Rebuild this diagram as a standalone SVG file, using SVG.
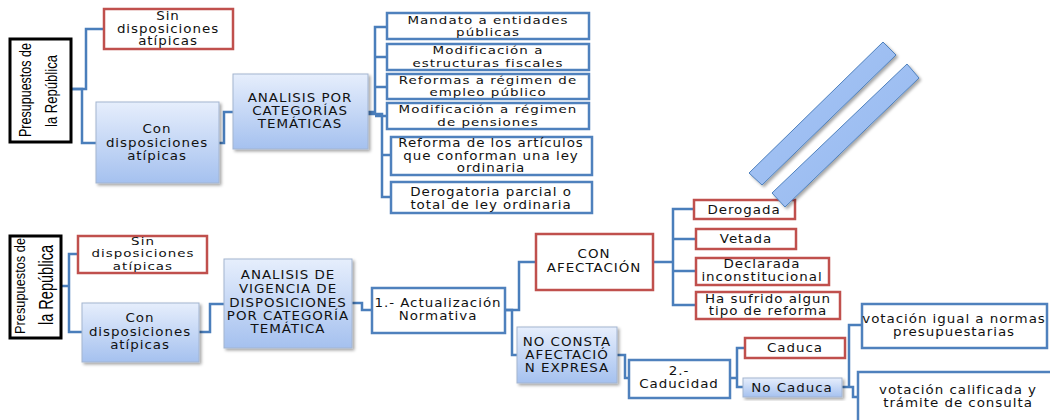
<svg xmlns="http://www.w3.org/2000/svg" width="1050" height="420" viewBox="0 0 1050 420">
<defs>
<linearGradient id="gb" x1="0" y1="0" x2="0" y2="1">
<stop offset="0" stop-color="#e6eefc"/>
<stop offset="1" stop-color="#a5c1ef"/>
</linearGradient>
<linearGradient id="gbar" x1="0" y1="0" x2="1" y2="1">
<stop offset="0" stop-color="#a9c7f6"/>
<stop offset="1" stop-color="#94b7ee"/>
</linearGradient>
<filter id="sh" x="-20%" y="-20%" width="140%" height="140%">
<feDropShadow dx="2" dy="2" stdDeviation="1.5" flood-color="#000" flood-opacity="0.35"/>
</filter>
<style>
.t{font-family:"DejaVu Sans",Verdana,sans-serif;font-size:12px;letter-spacing:0.85px;fill:#111;text-anchor:middle}
.s{font-size:11px}
.p{font-family:"Liberation Sans",Arial,sans-serif;fill:#000;text-anchor:middle}
.red{fill:#fff;stroke:#c0504d;stroke-width:2.5}
.blu{fill:#fff;stroke:#4f81bd;stroke-width:2.5}
.grd{fill:url(#gb);stroke:#a3b5d0;stroke-width:1;filter:url(#sh)}
.blk{fill:#fff;stroke:#000;stroke-width:3}
.c path{fill:none;stroke:#4a7ebb;stroke-width:2.5}
.bar{fill:url(#gbar);stroke:#4f81bd;stroke-width:1;filter:url(#sh)}
</style>
</defs>
<rect width="1050" height="420" fill="#fff"/>

<g class="c" id="connectors">
<path d="M71,89 H86 V29 H104"/>
<path d="M71,89 H82 V143 H96"/>
<path d="M219,143 H224 V112 H233"/>
<path d="M368,112 H375 V27 H387 M375,57 H387 M375,87 H387 M375,116 H387"/>
<path d="M368,114 H382 V197 H391 M382,155 H391"/>
<path d="M61,286 H69 V254 H78 M69,286 V332 H82"/>
<path d="M199,332 H210 V304 H224"/>
<path d="M352,303 H362 V310 H372"/>
<path d="M505,310 H519 V262 H536"/>
<path d="M505,310 H512 V355 H517"/>
<path d="M653,262 H673 V209 H694 M673,239 H696 M673,271 H696 M673,262 V305 H696"/>
<path d="M617,355 H625 V378 H629"/>
<path d="M730,378 H737 V348 H745 M737,378 V387 H743"/>
<path d="M842,387 H849 V325 H862 M849,387 H853 V397 H858"/>
</g>

<g id="presupuestos1">
<rect class="blk" x="10" y="39" width="61" height="103"/>
<text class="p" font-size="17" transform="translate(31,90) rotate(-90)" textLength="94" lengthAdjust="spacingAndGlyphs">Presupuestos de</text>
<text class="p" font-size="17" transform="translate(57,91) rotate(-90)" textLength="72" lengthAdjust="spacingAndGlyphs">la República</text>
</g>
<g id="sin1">
<rect class="red" x="104" y="9" width="129" height="40"/>
<g transform="translate(168 0) scale(1.12 1)">
<text class="t" x="0" y="20">Sin</text>
<text class="t" x="0" y="33">disposiciones</text>
<text class="t" x="0" y="45">atípicas</text>
</g>
</g>
<g id="con1">
<rect class="grd" x="96" y="102" width="123" height="81"/>
<g transform="translate(157 0) scale(1.12 1)">
<text class="t" x="0" y="133">Con</text>
<text class="t" x="0" y="147">disposiciones</text>
<text class="t" x="0" y="160">atípicas</text>
</g>
</g>
<g id="analisis1">
<rect class="grd" x="233" y="74" width="135" height="75"/>
<g transform="translate(300 0) scale(1.12 1)">
<text class="t" x="0" y="102">ANALISIS POR</text>
<text class="t" x="0" y="115">CATEGORÍAS</text>
<text class="t" x="0" y="128">TEMÁTICAS</text>
</g>
</g>
<g id="cat1">
<rect class="blu" x="387" y="13" width="202" height="26"/>
<g transform="translate(488 0) scale(1.22 1)">
<text class="t s" x="0" y="24">Mandato a entidades</text>
<text class="t s" x="0" y="36.5">públicas</text>
</g>
</g>
<g id="cat2">
<rect class="blu" x="387" y="44" width="202" height="26"/>
<g transform="translate(488 0) scale(1.22 1)">
<text class="t s" x="0" y="54.5">Modificación a</text>
<text class="t s" x="0" y="67">estructuras fiscales</text>
</g>
</g>
<g id="cat3">
<rect class="blu" x="387" y="74" width="202" height="25"/>
<g transform="translate(488 0) scale(1.22 1)">
<text class="t s" x="0" y="84">Reformas a régimen de</text>
<text class="t s" x="0" y="96.5">empleo público</text>
</g>
</g>
<g id="cat4">
<rect class="blu" x="387" y="103" width="202" height="26"/>
<g transform="translate(488 0) scale(1.22 1)">
<text class="t s" x="0" y="113.5">Modificación a régimen</text>
<text class="t s" x="0" y="126">de pensiones</text>
</g>
</g>
<g id="cat5">
<rect class="blu" x="391" y="137" width="201" height="38"/>
<g transform="translate(491 0) scale(1.12 1)">
<text class="t" x="0" y="147.5">Reforma de los artículos</text>
<text class="t" x="0" y="160">que conforman una ley</text>
<text class="t" x="0" y="172.5">ordinaria</text>
</g>
</g>
<g id="cat6">
<rect class="blu" x="391" y="182" width="201" height="31"/>
<g transform="translate(491 0) scale(1.12 1)">
<text class="t" x="0" y="196.5">Derogatoria parcial o</text>
<text class="t" x="0" y="209">total de ley ordinaria</text>
</g>
</g>

<g id="presupuestos2">
<rect class="blk" x="10" y="236" width="51" height="102"/>
<text class="p" font-size="15" transform="translate(25,286) rotate(-90)" textLength="96" lengthAdjust="spacingAndGlyphs">Presupuestos de</text>
<text class="p" font-size="21" transform="translate(53,285) rotate(-90)" textLength="80" lengthAdjust="spacingAndGlyphs">la República</text>
</g>
<g id="sin2">
<rect class="red" x="78" y="236" width="129" height="37"/>
<g transform="translate(143 0) scale(1.22 1)">
<text class="t s" x="0" y="245">Sin</text>
<text class="t s" x="0" y="257.5">disposiciones</text>
<text class="t s" x="0" y="270">atípicas</text>
</g>
</g>
<g id="con2">
<rect class="grd" x="82" y="303" width="117" height="59"/>
<g transform="translate(140 0) scale(1.12 1)">
<text class="t" x="0" y="322">Con</text>
<text class="t" x="0" y="336">disposiciones</text>
<text class="t" x="0" y="349">atípicas</text>
</g>
</g>
<g id="analisis2">
<rect class="grd" x="224" y="259" width="128" height="89"/>
<g transform="translate(288 0) scale(1.12 1)">
<text class="t" x="0" y="279">ANALISIS DE</text>
<text class="t" x="0" y="293">VIGENCIA DE</text>
<text class="t" x="0" y="307">DISPOSICIONES</text>
<text class="t" x="0" y="320">POR CATEGORÍA</text>
<text class="t" x="0" y="333">TEMÁTICA</text>
</g>
</g>
<g id="actualizacion">
<rect class="blu" x="372" y="288" width="133" height="45"/>
<g transform="translate(438 0) scale(1.12 1)">
<text class="t" x="0" y="307">1.- Actualización</text>
<text class="t" x="0" y="320">Normativa</text>
</g>
</g>
<g id="conafectacion">
<rect class="red" x="536" y="234" width="117" height="56"/>
<g transform="translate(594 0) scale(1.12 1)">
<text class="t" x="0" y="258">CON</text>
<text class="t" x="0" y="272">AFECTACIÓN</text>
</g>
</g>
<g id="derogada">
<rect class="red" x="694" y="200" width="101" height="19"/>
<g transform="translate(744 0) scale(1.12 1)">
<text class="t" x="0" y="214">Derogada</text>
</g>
</g>
<g id="vetada">
<rect class="red" x="696" y="229" width="100" height="20"/>
<g transform="translate(746 0) scale(1.12 1)">
<text class="t" x="0" y="243">Vetada</text>
</g>
</g>
<g id="declarada">
<rect class="red" x="696" y="258" width="133" height="27"/>
<g transform="translate(762 0) scale(1.12 1)">
<text class="t" x="0" y="268.5">Declarada</text>
<text class="t" x="0" y="281">inconstitucional</text>
</g>
</g>
<g id="reforma">
<rect class="red" x="696" y="292" width="144" height="27"/>
<g transform="translate(768 0) scale(1.12 1)">
<text class="t" x="0" y="303">Ha sufrido algun</text>
<text class="t" x="0" y="315.5">tipo de reforma</text>
</g>
</g>
<g id="noconsta">
<rect class="grd" x="517" y="327" width="100" height="56"/>
<g transform="translate(567 0) scale(1.12 1)">
<text class="t" x="0" y="346">NO CONSTA</text>
<text class="t" x="0" y="359">AFECTACIÓ</text>
<text class="t" x="0" y="372">N EXPRESA</text>
</g>
</g>
<g id="caducidad">
<rect class="blu" x="629" y="360" width="101" height="38"/>
<g transform="translate(679 0) scale(1.12 1)">
<text class="t" x="0" y="375">2.-</text>
<text class="t" x="0" y="388">Caducidad</text>
</g>
</g>
<g id="caduca">
<rect class="red" x="745" y="338" width="100" height="20"/>
<g transform="translate(795 0) scale(1.12 1)">
<text class="t" x="0" y="352">Caduca</text>
</g>
</g>
<g id="nocaduca">
<rect class="grd" x="743" y="378" width="99" height="19"/>
<g transform="translate(792 0) scale(1.12 1)">
<text class="t" x="0" y="392">No Caduca</text>
</g>
</g>
<g id="votacion1">
<rect class="blu" x="862" y="304" width="185" height="44"/>
<g transform="translate(954 0) scale(1.12 1)">
<text class="t" x="0" y="323">votación igual a normas</text>
<text class="t" x="0" y="336">presupuestarias</text>
</g>
</g>
<g id="votacion2">
<rect class="blu" x="858" y="372" width="200" height="60"/>
<g transform="translate(958 0) scale(1.12 1)">
<text class="t" x="0" y="394">votación calificada y</text>
<text class="t" x="0" y="407">trámite de consulta</text>
</g>
</g>

<g id="bar1">
<polygon class="bar" points="883,42 896,55 762,185 749,173"/>
</g>
<g id="bar2">
<polygon class="bar" points="907,64 919,78 785,207 772,193"/>
</g>
</svg>
